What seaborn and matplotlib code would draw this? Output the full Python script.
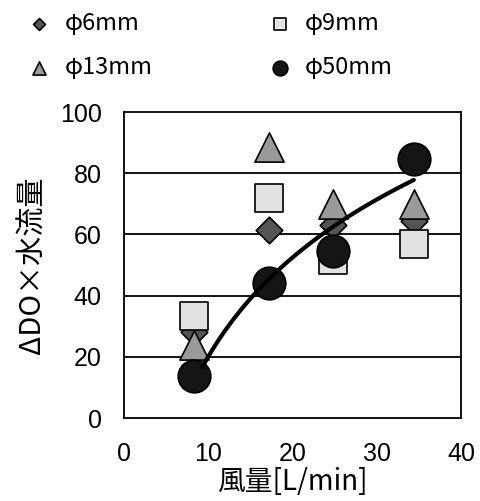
import numpy as np
import pandas as pd
import matplotlib
matplotlib.use("Agg")
import matplotlib.pyplot as plt
import seaborn as sns

# ---- data ----
air_flow = [8.3, 17.2, 24.8, 34.4]           # 風量 [L/min]
y_6mm = [28.0, 61.3, 63.0, 64.5]
y_9mm = [33.2, 71.9, 51.7, 57.0]
y_13mm = [24.0, 88.4, 70.0, 70.0]
y_50mm = [13.8, 44.0, 54.7, 84.5]
series_labels = ["φ6mm", "φ9mm", "φ13mm", "φ50mm"]
x_ticks = [0, 10, 20, 30, 40]
y_ticks = [0, 20, 40, 60, 80, 100]
fit_range = [9.3, 34.4]

sns.set_style("white")
plt.rcParams['font.family'] = ['Liberation Sans', 'Noto Sans CJK JP', 'DejaVu Sans']
plt.rcParams['text.color'] = 'black'
plt.rcParams['axes.labelcolor'] = 'black'
plt.rcParams['xtick.color'] = 'black'
plt.rcParams['ytick.color'] = 'black'

fig = plt.figure(figsize=(4.81, 5.01), dpi=100)
ax = fig.add_axes([124/481, 1-418/501, (461-124)/481, (418-112)/501])

ax.set_xlim(0, 40)
ax.set_ylim(0, 100)
for yv in y_ticks[1:-1]:
    ax.axhline(yv, color='black', lw=1.3, zorder=1)

styles = [
    (y_6mm, 'D', '#555555', 13.5, series_labels[0]),
    (y_13mm, '^', '#9a9a9a', 21, series_labels[2]),
    (y_9mm, 's', '#e2e2e2', 20, series_labels[1]),
    (y_50mm, 'o', '#151515', 23.5, series_labels[3]),
]
for i, (yy, m, c, ms, lab) in enumerate(styles):
    d = pd.DataFrame({"x": air_flow, "y": yy})
    sns.scatterplot(data=d, x="x", y="y", marker=m, s=ms**2, color=c,
                    edgecolor='black', linewidth=1.2, ax=ax, zorder=3+i,
                    label=lab, legend=True)

# logarithmic trend line of the φ50mm series
a, b = np.polyfit(np.log(air_flow), y_50mm, 1)
xf = np.linspace(fit_range[0], fit_range[1], 100)
fit_df = pd.DataFrame({"x": xf, "y": a*np.log(xf) + b})
sns.lineplot(data=fit_df, x="x", y="y", color='black', lw=3, ax=ax, zorder=10,
             legend=False)

ax.set_xticks(x_ticks)
ax.set_yticks(y_ticks)
ax.tick_params(axis='x', direction='in', length=5, width=1.2, pad=17, labelsize=18)
ax.tick_params(axis='y', direction='in', length=0, pad=16, labelsize=18)
for sp in ax.spines.values():
    sp.set_color('black')
    sp.set_linewidth(1.3)

ax.set_xlabel("風量[L/min]", fontsize=20, labelpad=1,
              family=['Noto Sans CJK JP', 'DejaVu Sans'])
ax.set_ylabel("ΔDO×水流量", fontsize=21, labelpad=9,
              family=['Noto Sans CJK JP', 'DejaVu Sans'])

h, l = ax.get_legend_handles_labels()
ax.get_legend().remove()
order = [series_labels[0], series_labels[2], series_labels[1], series_labels[3]]
hh = [h[l.index(o)] for o in order]
fig.legend(hh, order, loc='upper left', bbox_to_anchor=(28/481, 1-12/501),
           ncol=2, frameon=False, markerscale=0.45,
           prop={'family': ['Noto Sans CJK JP', 'DejaVu Sans'], 'size': 17},
           handlelength=0.95, handletextpad=0.6, columnspacing=4.9,
           labelspacing=0.9, borderpad=0, borderaxespad=0)

fig.savefig("out.png", dpi=100)
